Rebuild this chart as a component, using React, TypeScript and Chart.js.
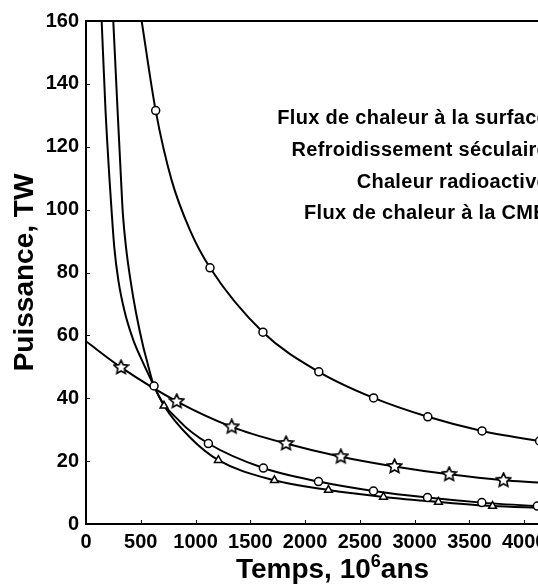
import React, { useEffect, useRef } from 'react';
import { Chart, registerables } from 'chart.js';

Chart.register(...registerables);

// ---- Data ----
const legendLabels = [
  'Flux de chaleur à la surface',
  'Refroidissement séculaire',
  'Chaleur radioactive',
  'Flux de chaleur à la CMB',
];

// Surface heat flow (open circles, top curve)
const surfaceCurveT = [508, 636, 782, 950, 1132, 1615, 2125, 2625, 3120, 3615, 4140, 4500];
const surfaceCurveP = [160, 131.5, 109.3, 93.4, 81.5, 61, 48.4, 40.1, 34.1, 29.6, 26.4, 24.6];
const surfaceMarkT = [636, 1132, 1615, 2125, 2625, 3120, 3615, 4140];
const surfaceMarkP = [131.5, 81.5, 61, 48.4, 40.1, 34.1, 29.6, 26.4];

// Secular cooling (open circles, lower curve)
const secularCurveT = [249, 288, 320, 336, 365, 406, 457, 523, 554, 621, 860, 1117, 1619, 2122, 2624, 3117, 3613, 4120, 4500];
const secularCurveP = [160, 131.7, 109.4, 98.9, 88.1, 77.6, 67.1, 56.3, 52.2, 43.9, 32.5, 25.6, 17.8, 13.5, 10.5, 8.4, 6.8, 5.7, 5.1];
const secularMarkT = [621, 1117, 1619, 2122, 2624, 3117, 3613, 4120];
const secularMarkP = [43.9, 25.6, 17.8, 13.5, 10.5, 8.4, 6.8, 5.7];

// Radioactive heat (stars)
const radioCurveT = [0, 320, 828, 1330, 1826, 2326, 2816, 3315, 3811, 4128, 4500];
const radioCurveP = [58.1, 49.8, 39, 30.9, 25.6, 21.4, 18.3, 15.8, 13.9, 13.2, 12.3];
const radioMarkT = [320, 828, 1330, 1826, 2326, 2816, 3315, 3811];
const radioMarkP = [49.8, 39, 30.9, 25.6, 21.4, 18.3, 15.8, 13.9];

// CMB heat flow (open triangles)
const cmbCurveT = [143, 178, 215, 235, 258, 295, 356, 432, 509, 621, 712, 950, 1208, 1720, 2213, 2715, 3217, 3711, 4128, 4500];
const cmbCurveP = [160, 131.7, 109.4, 98.9, 88.1, 77.6, 67.1, 58.5, 52.2, 43.9, 37.6, 27.5, 20.3, 13.9, 10.8, 8.6, 7.0, 5.7, 5.2, 4.8];
const cmbMarkT = [712, 1208, 1720, 2213, 2715, 3217, 3711];
const cmbMarkP = [37.6, 20.3, 13.9, 10.8, 8.6, 7.0, 5.7];

const xMin = 0;
const xMax = 4500;
const xStep = 500;
const yMin = 0;
const yMax = 160;
const yStep = 20;

const FONT = '"Liberation Sans", Arial, Helvetica, sans-serif';

function pts(t: number[], p: number[]) {
  return t.map((x, i) => ({ x, y: p[i] }));
}

function makeStar(size: number): HTMLCanvasElement {
  const c = document.createElement('canvas');
  c.width = size;
  c.height = size;
  const ctx = c.getContext('2d')!;
  const cx = size / 2;
  const cy = size / 2;
  const R = size / 2 - 1.2;
  const r = R * 0.48;
  ctx.beginPath();
  for (let i = 0; i < 10; i++) {
    const a = -Math.PI / 2 + (i * Math.PI) / 5;
    const rad = i % 2 === 0 ? R : r;
    const x = cx + rad * Math.cos(a);
    const y = cy + rad * Math.sin(a);
    if (i === 0) ctx.moveTo(x, y);
    else ctx.lineTo(x, y);
  }
  ctx.closePath();
  ctx.fillStyle = '#fff';
  ctx.fill();
  ctx.lineWidth = 1.6;
  ctx.strokeStyle = '#000';
  ctx.lineJoin = 'miter';
  ctx.stroke();
  return c;
}

export default function App() {
  const ref = useRef<HTMLCanvasElement | null>(null);

  useEffect(() => {
    document.body.style.margin = '0';
    document.body.style.overflow = 'hidden';
    const canvas = ref.current;
    if (!canvas) return;
    const star = makeStar(17);

    const lineDs = (t: number[], p: number[]) => ({
      data: pts(t, p),
      showLine: true,
      borderColor: '#000',
      borderWidth: 2,
      pointRadius: 0,
      pointHoverRadius: 0,
      cubicInterpolationMode: 'monotone' as const,
      fill: false,
      order: 2,
    });
    const markDs = (t: number[], p: number[], style: any, radius: number) => ({
      data: pts(t, p),
      showLine: false,
      pointStyle: style,
      pointRadius: radius,
      pointHoverRadius: radius,
      pointBackgroundColor: '#fff',
      pointBorderColor: '#000',
      pointBorderWidth: 1.5,
      order: 0,
    });

    const legendStyles: any[] = ['circle', 'circle', star, 'triangle'];

    const framePlugin = {
      id: 'frameAndText',
      beforeDatasetsDraw(chart: any) {
        const { ctx, chartArea } = chart;
        const { left, top, right, bottom } = chartArea;
        ctx.save();
        ctx.strokeStyle = '#000';
        ctx.lineWidth = 2;
        ctx.strokeRect(left, top, right - left, bottom - top);
        ctx.lineWidth = 1;
        const xs = chart.scales.x;
        const ys = chart.scales.y;
        for (let v = xMin; v <= xMax; v += xStep) {
          const px = Math.round(xs.getPixelForValue(v)) + 0.5;
          ctx.beginPath();
          ctx.moveTo(px, bottom);
          ctx.lineTo(px, bottom - 4);
          ctx.stroke();
        }
        for (let v = yMin; v <= yMax; v += yStep) {
          const py = Math.round(ys.getPixelForValue(v)) + 0.5;
          ctx.beginPath();
          ctx.moveTo(left, py);
          ctx.lineTo(left + 4, py);
          ctx.stroke();
        }
        ctx.restore();
      },
      afterDraw(chart: any) {
        const { ctx, chartArea } = chart;
        ctx.save();
        ctx.fillStyle = '#000';
        // Y title
        ctx.font = `bold 28px ${FONT}`;
        ctx.textAlign = 'center';
        ctx.textBaseline = 'alphabetic';
        ctx.translate(33, (chartArea.top + chartArea.bottom) / 2);
        ctx.rotate(-Math.PI / 2);
        ctx.fillText('Puissance, TW', 0, 0);
        ctx.setTransform(1, 0, 0, 1, 0, 0);
        // X title with superscript
        const cx = (chartArea.left + chartArea.right) / 2;
        const base = 578;
        ctx.textAlign = 'left';
        ctx.font = `bold 28px ${FONT}`;
        const p1 = 'Temps, 10';
        const p3 = 'ans';
        const w1 = ctx.measureText(p1).width;
        const w3 = ctx.measureText(p3).width;
        ctx.font = `bold 18px ${FONT}`;
        const w2 = ctx.measureText('6').width;
        const x0 = cx - (w1 + w2 + w3) / 2;
        ctx.font = `bold 28px ${FONT}`;
        ctx.fillText(p1, x0, base);
        ctx.font = `bold 18px ${FONT}`;
        ctx.fillText('6', x0 + w1, base - 11);
        ctx.font = `bold 28px ${FONT}`;
        ctx.fillText(p3, x0 + w1 + w2, base);
        // Legend (right aligned text + samples)
        ctx.font = `bold 20px ${FONT}`;
        (ctx as any).letterSpacing = '0.3px';
        ctx.textAlign = 'right';
        const baselines = [124, 156, 187.5, 219];
        const textRight = 548;
        legendLabels.forEach((lab, i) => {
          ctx.fillText(lab, textRight, baselines[i]);
          const y = baselines[i] - 7;
          ctx.strokeStyle = '#000';
          ctx.lineWidth = 2;
          ctx.beginPath();
          ctx.moveTo(textRight + 8, y);
          ctx.lineTo(textRight + 28, y);
          ctx.stroke();
          const st = legendStyles[i];
          if (st === 'circle') {
            ctx.beginPath();
            ctx.arc(textRight + 18, y, 4, 0, Math.PI * 2);
            ctx.fillStyle = '#fff';
            ctx.fill();
            ctx.lineWidth = 1.5;
            ctx.stroke();
          } else if (st === 'triangle') {
            ctx.beginPath();
            ctx.moveTo(textRight + 18, y - 5);
            ctx.lineTo(textRight + 23, y + 4);
            ctx.lineTo(textRight + 13, y + 4);
            ctx.closePath();
            ctx.fillStyle = '#fff';
            ctx.fill();
            ctx.lineWidth = 1.5;
            ctx.stroke();
          } else {
            ctx.drawImage(st, textRight + 18 - 8.5, y - 8.5);
          }
          ctx.fillStyle = '#000';
        });
        ctx.restore();
      },
    };

    const chart = new Chart(canvas, {
      type: 'scatter',
      data: {
        datasets: [
          markDs(surfaceMarkT, surfaceMarkP, 'circle', 4),
          markDs(secularMarkT, secularMarkP, 'circle', 4),
          markDs(radioMarkT, radioMarkP, star, 8),
          markDs(cmbMarkT, cmbMarkP, 'triangle', 4.5),
          lineDs(surfaceCurveT, surfaceCurveP),
          lineDs(secularCurveT, secularCurveP),
          lineDs(radioCurveT, radioCurveP),
          lineDs(cmbCurveT, cmbCurveP),
        ] as any,
      },
      options: {
        animation: false,
        responsive: false,
        devicePixelRatio: 1,
        layout: { padding: { left: 0, top: 21, right: 61, bottom: 0 } },
        plugins: {
          legend: { display: false },
          tooltip: { enabled: false },
          title: { display: false },
        },
        scales: {
          x: {
            type: 'linear',
            min: xMin,
            max: xMax,
            border: { display: false },
            grid: { display: false, drawTicks: false },
            ticks: {
              stepSize: xStep,
              autoSkip: false,
              maxRotation: 0,
              padding: 6,
              color: '#000',
              font: { family: FONT, size: 20, weight: 'bold' },
              callback: (v: any) => String(v),
            },
            afterFit: (scale: any) => {
              scale.height = 60;
            },
          },
          y: {
            type: 'linear',
            min: yMin,
            max: yMax,
            border: { display: false },
            grid: { display: false, drawTicks: false },
            ticks: {
              stepSize: yStep,
              padding: 7,
              color: '#000',
              font: { family: FONT, size: 20, weight: 'bold' },
              callback: (v: any) => String(v),
            },
            afterFit: (scale: any) => {
              scale.width = 86;
            },
          },
        },
      },
      plugins: [framePlugin],
    });

    return () => {
      chart.destroy();
    };
  }, []);

  return (
    <canvas
      ref={ref}
      width={640}
      height={584}
      style={{ display: 'block', width: 640, height: 584 }}
    />
  );
}
